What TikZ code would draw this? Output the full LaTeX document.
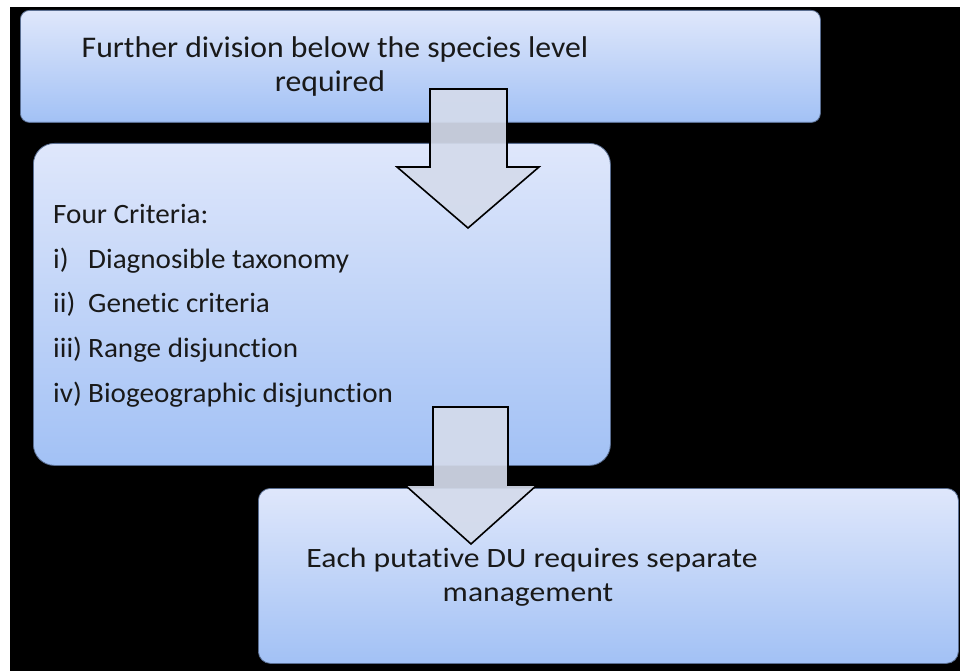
\documentclass[tikz,border=0pt]{standalone}
\usepackage{fontspec}
\setmainfont{Carlito}[Ligatures={NoCommon,NoRequired,NoContextual}]
\newfontfamily\topfont{Carlito}[Ligatures={NoCommon,NoRequired,NoContextual}, FakeStretch=1.057]
\newfontfamily\botfont{Carlito}[Ligatures={NoCommon,NoRequired,NoContextual}, FakeStretch=1.13]
\newfontfamily\listfont{Carlito}[Ligatures={NoCommon,NoRequired,NoContextual}, FakeStretch=1.04]
\definecolor{boxtop}{RGB}{223,231,251}
\definecolor{boxbot}{RGB}{162,193,245}
\definecolor{boxline}{RGB}{90,110,145}
\definecolor{arrowfill}{RGB}{212,219,235}
\definecolor{txt}{RGB}{25,25,25}
\tikzset{
  flowbox/.style={draw=boxline, line width=0.8pt, top color=boxtop, bottom color=boxbot, inner sep=0pt},
  blockarrow/.style={fill=arrowfill, fill opacity=0.92, draw=black, line width=1.6pt, line join=miter},
  toplbl/.style={text=txt, inner sep=0pt, font=\topfont\fontsize{30}{34}\selectfont},
  botlbl/.style={text=txt, inner sep=0pt, font=\botfont\fontsize{28}{34}\selectfont},
  lbl/.style={text=txt, inner sep=0pt, font=\listfont\fontsize{28}{34}\selectfont}
}
\begin{document}
\begin{tikzpicture}[x=1pt,y=-1pt]
\useasboundingbox (0,0) rectangle (960,671);
\fill[white] (0,0) rectangle (960,671);
\fill[black] (10,7) rectangle (960,671);

% boxes
\node[flowbox, rounded corners=9pt, minimum width=800pt, minimum height=112pt, anchor=north west] (top) at (20,10) {};
\node[flowbox, rounded corners=21pt, minimum width=577pt, minimum height=322pt, anchor=north west] (mid) at (33,143) {};
\node[flowbox, rounded corners=12pt, minimum width=700pt, minimum height=175pt, anchor=north west] (bot) at (258,488) {};

% texts
\node[toplbl, anchor=base] (t1) at (335,58) {Further division below the species level};
\node[toplbl, anchor=base] (t2) at (330,92) {required};

\node[lbl, anchor=base west] (crit) at (53,223) {Four Criteria:};
\node[lbl, anchor=base west] (n1) at (53,268) {i)};
\node[lbl, anchor=base west] (c1) at (88,268) {Diagnosible taxonomy};
\node[lbl, anchor=base west] (n2) at (53,312) {ii)};
\node[lbl, anchor=base west] (c2) at (88,312) {Genetic criteria};
\node[lbl, anchor=base west] (n3) at (53,357) {iii)};
\node[lbl, anchor=base west] (c3) at (88,357) {Range disjunction};
\node[lbl, anchor=base west] (n4) at (53,402) {iv)};
\node[lbl, anchor=base west] (c4) at (88,402) {Biogeographic disjunction};

\node[botlbl, anchor=base] (b1) at (532,567) {Each putative DU requires separate};
\node[botlbl, anchor=base] (b2) at (528,601) {management};

% block arrows
\draw[blockarrow] (430,89) -- (507,89) -- (507,167) -- (539,167) -- (468,228) -- (397,167) -- (430,167) -- cycle;
\draw[blockarrow] (433,407) -- (508,407) -- (508,485) -- (537,485) -- (471,544) -- (405,485) -- (433,485) -- cycle;
\end{tikzpicture}
\end{document}
